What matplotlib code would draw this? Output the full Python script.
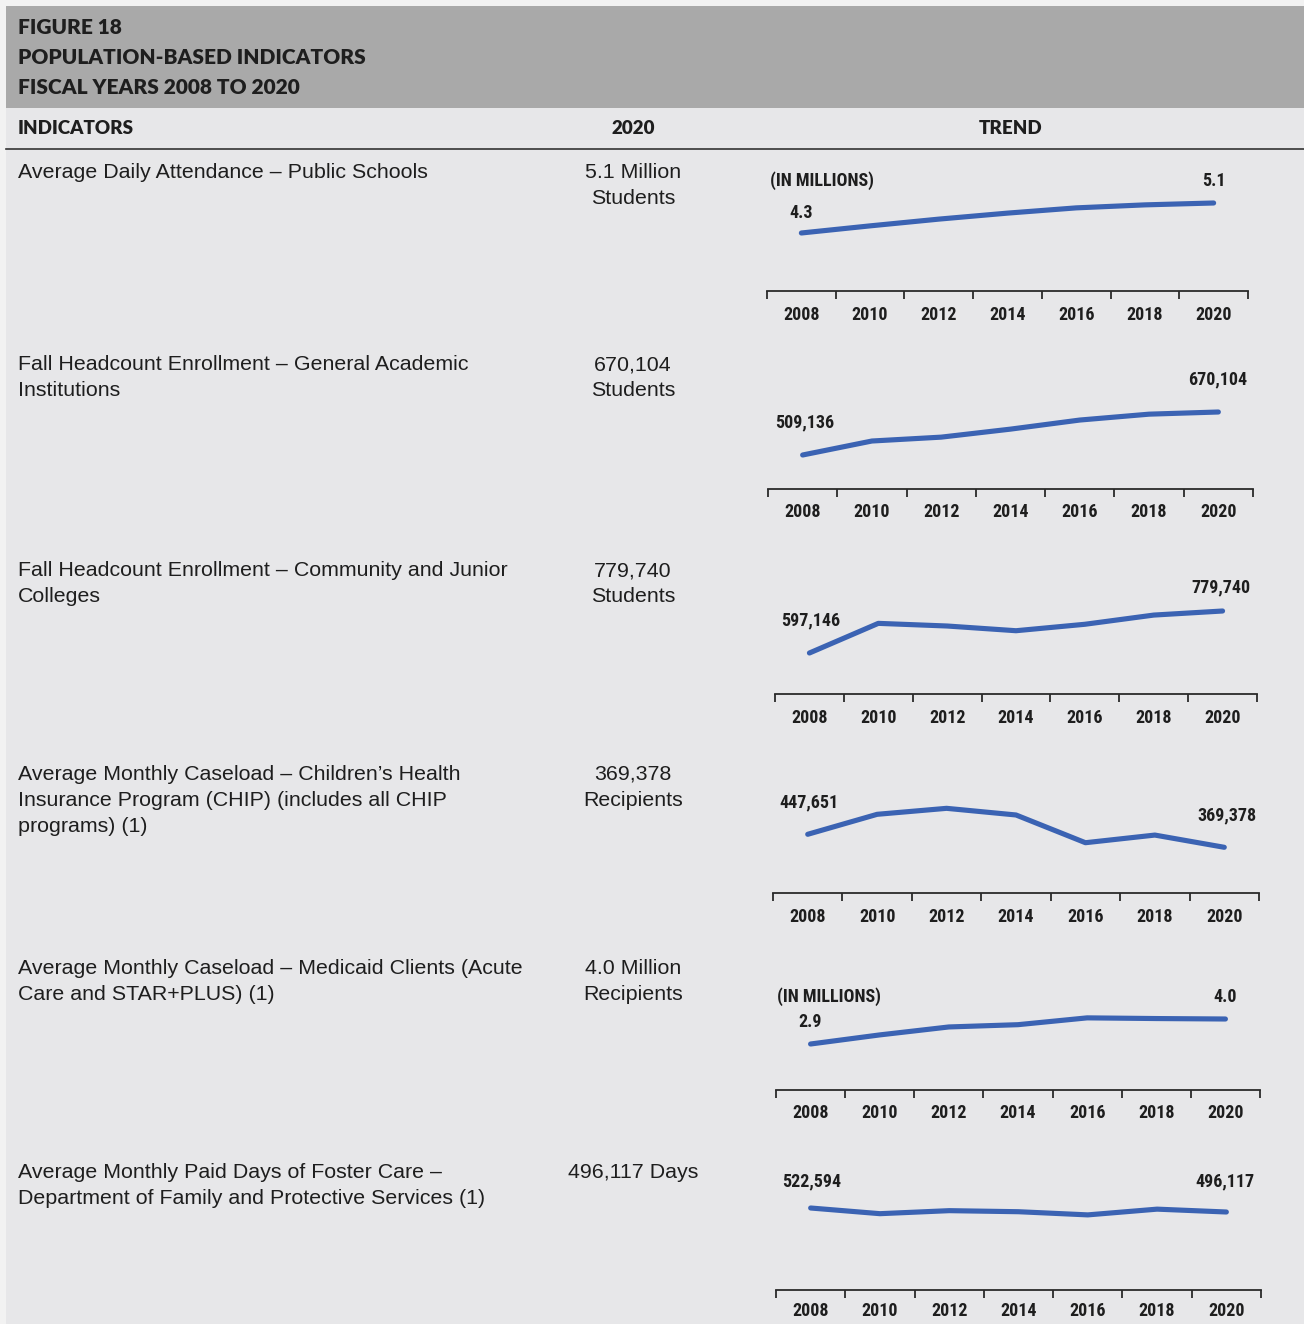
import numpy as np
import matplotlib.pyplot as plt

# data (values at even fiscal years)
years = [2008, 2010, 2012, 2014, 2016, 2018, 2020]
attendance = [4.3, 4.49, 4.67, 4.83, 4.97, 5.05, 5.1]          # millions
academic = [509136, 561500, 576000, 606000, 640000, 662000, 670104]
community = [597146, 726000, 714500, 694000, 722000, 762000, 779740]
chip = [447651, 568000, 604000, 564000, 397000, 443000, 369378]
medicaid = [2.9, 3.30, 3.65, 3.75, 4.05, 4.02, 4.0]               # millions
foster = [522594, 485000, 505000, 498000, 477000, 515000, 496117]

indicators = [
    ["Average Daily Attendance – Public Schools"],
    ["Fall Headcount Enrollment – General Academic", "Institutions"],
    ["Fall Headcount Enrollment – Community and Junior", "Colleges"],
    ["Average Monthly Caseload – Children’s Health",
     "Insurance Program (CHIP) (includes all CHIP", "programs) (1)"],
    ["Average Monthly Caseload – Medicaid Clients (Acute",
     "Care and STAR+PLUS) (1)"],
    ["Average Monthly Paid Days of Foster Care –",
     "Department of Family and Protective Services (1)"],
]
values_2020 = [
    ["5.1 Million", "Students"],
    ["670,104", "Students"],
    ["779,740", "Students"],
    ["369,378", "Recipients"],
    ["4.0 Million", "Recipients"],
    ["496,117 Days"],
]
series = [attendance, academic, community, chip, medicaid, foster]
first_labels = ["4.3", "509,136", "597,146", "447,651", "2.9", "522,594"]
last_labels = ["5.1", "670,104", "779,740", "369,378", "4.0", "496,117"]
in_millions = [True, False, False, False, True, False]

W, H = 1304, 1324
fig = plt.figure(figsize=(W / 100, H / 100), dpi=100)
fig.patch.set_facecolor("#f2f2f2")

BODY = ["Liberation Sans", "DejaVu Sans"]
HEAD = ["Lato", "DejaVu Sans"]
NARROW = ["Roboto Condensed", "Liberation Sans", "DejaVu Sans"]
NSIZE = 13
INK = "#1e1e1e"
BLUE = "#3b63b3"


def px(x, y):
    return x / W, 1 - y / H


def ftext(x, y, s, **kw):
    fig.text(*px(x, y), s, **kw)


# page background + header band
bg = fig.add_axes([6 / W, 0, 1, 1 - 108 / H])
bg.add_patch(plt.Rectangle((0, 0), 1, 1, transform=bg.transAxes, color="#e7e7e9", zorder=0))
bg.axis("off")
band = fig.add_axes([6 / W, 1 - 108 / H, 1 - 6 / W, 102 / H])
band.add_patch(plt.Rectangle((0, 0), 1, 1, transform=band.transAxes, color="#a9a9a9"))
band.axis("off")

for i, s in enumerate(["FIGURE 18", "POPULATION-BASED INDICATORS", "FISCAL YEARS 2008 TO 2020"]):
    ftext(18, 28 + i * 29.5, s, family=HEAD, weight="heavy", fontsize=15,
          color=INK, va="center")

ftext(18, 129, "INDICATORS", family=HEAD, weight="heavy", fontsize=13.5, color=INK, va="center")
ftext(633, 129, "2020", family=HEAD, weight="heavy", fontsize=13.5, color=INK, va="center", ha="center")
ftext(1011, 129, "TREND", family=HEAD, weight="heavy", fontsize=13.5, color=INK, va="center", ha="center")
fig.add_artist(plt.Line2D([6 / W, 1], [1 - 149 / H] * 2, color="#333333", lw=1.2))

# row layout in pixels
text_y = [170, 363, 569, 772, 966, 1170]
axis_y = [291, 489, 694, 893, 1090, 1290]
axis_x = [(767, 1248), (768, 1253), (775, 1257), (773, 1259), (776, 1260), (776, 1261)]
label_pad = [11, 10, 11, 11, 10, 9]
ylims = [(2.753, 6.22), (381860, 868502), (418898, 984074),
         (94218, 876948), (0.876, 6.596), (-20164, 840306)]
first_pos = [(801, 213, "center"), (775, 422, "left"), (781, 620, "left"),
             (779, 802, "left"), (810, 1022, "center"), (782, 1181, "left")]
last_pos = [(1214, 181, "center"), (1247, 379, "right"), (1250, 587, "right"),
            (1256, 815, "right"), (1225, 997, "center"), (1254, 1181, "right")]
millions_pos = {0: (770, 181), 4: (777, 997)}

for r in range(6):
    for j, line in enumerate(indicators[r]):
        ftext(18, text_y[r] + j * 26, line, family=BODY, fontsize=15.4, color=INK,
              va="center_baseline")
    for j, line in enumerate(values_2020[r]):
        ftext(633, text_y[r] + j * 26, line, family=BODY, fontsize=15.4, color=INK,
              va="center_baseline", ha="center")

    x0, x1 = axis_x[r]
    ax = fig.add_axes([x0 / W, 1 - axis_y[r] / H, (x1 - x0) / W, 130 / H])
    ax.patch.set_alpha(0)
    ax.plot(years, series[r], color=BLUE, lw=3.7, solid_capstyle="round",
            solid_joinstyle="round")
    ax.set_xlim(2007, 2021)
    ax.set_ylim(*ylims[r])
    for sp in ["top", "left", "right"]:
        ax.spines[sp].set_visible(False)
    ax.spines["bottom"].set_color("#2a2a2a")
    ax.spines["bottom"].set_linewidth(1.3)
    ax.set_yticks([])
    ax.set_xticks(np.arange(2007, 2022, 2))
    ax.set_xticks(years, minor=True)
    ax.set_xticklabels([])
    ax.set_xticklabels([str(y) for y in years], minor=True, family=NARROW,
                       weight="bold", fontsize=NSIZE, color=INK)
    ax.tick_params(axis="x", which="major", length=6, width=1.3, color="#2a2a2a",
                   direction="out")
    ax.tick_params(axis="x", which="minor", length=0, pad=label_pad[r])

    fx, fy, fha = first_pos[r]
    ftext(fx, fy, first_labels[r], family=NARROW, weight="bold", fontsize=NSIZE,
          color=INK, ha=fha, va="center")
    lx, ly, lha = last_pos[r]
    ftext(lx, ly, last_labels[r], family=NARROW, weight="bold", fontsize=NSIZE,
          color=INK, ha=lha, va="center")
    if in_millions[r]:
        mx, my = millions_pos[r]
        ftext(mx, my, "(IN MILLIONS)", family=NARROW, weight="bold", fontsize=NSIZE,
              color=INK, ha="left", va="center")

fig.savefig("out.png", dpi=100)
